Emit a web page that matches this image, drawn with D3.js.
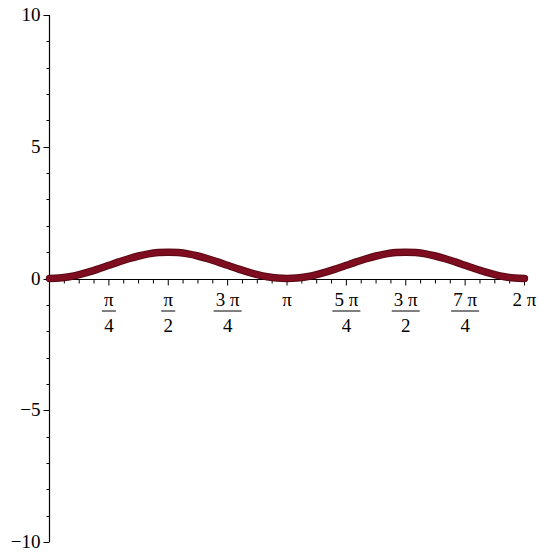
<!DOCTYPE html>
<html>
<head>
<meta charset="utf-8">
<script src="https://cdn.jsdelivr.net/npm/d3@7"></script>
<style>
  body { margin: 0; background: #fff; }
  text { font-family: 'Liberation Serif', 'Times New Roman', serif; fill: #000; }
</style>
</head>
<body>
<div id="chart"></div>
<script>
// sample points (x in radians, y values)
const xValues = [0, 0.131, 0.262, 0.393, 0.524, 0.654, 0.785, 0.916, 1.047, 1.178, 1.309, 1.440,
  1.571, 1.702, 1.833, 1.963, 2.094, 2.225, 2.356, 2.487, 2.618, 2.749, 2.880, 3.011,
  3.142, 3.272, 3.403, 3.534, 3.665, 3.796, 3.927, 4.058, 4.189, 4.320, 4.451, 4.581,
  4.712, 4.843, 4.974, 5.105, 5.236, 5.367, 5.498, 5.629, 5.760, 5.890, 6.021, 6.152, 6.283]
const yValues = [0, 0.017, 0.067, 0.146, 0.25, 0.371, 0.5, 0.629, 0.75, 0.854, 0.933, 0.983,
  1, 0.983, 0.933, 0.854, 0.75, 0.629, 0.5, 0.371, 0.25, 0.146, 0.067, 0.017,
  0, 0.017, 0.067, 0.146, 0.25, 0.371, 0.5, 0.629, 0.75, 0.854, 0.933, 0.983,
  1, 0.983, 0.933, 0.854, 0.75, 0.629, 0.5, 0.371, 0.25, 0.146, 0.067, 0.017, 0]

// x tick labels at multiples of pi/4
const xTickMultiples = [1, 2, 3, 4, 5, 6, 7, 8]
const xTickNum = ['π', 'π', '3 π', 'π', '5 π', '3 π', '7 π', '2 π']
const xTickDen = ['4', '2', '4', null, '4', '2', '4', null]
const yTicks = [-10, -5, 0, 5, 10]
const yTickLabels = ['−10', '−5', '0', '5', '10']

const width = 540
const height = 555
const margin = { top: 15, left: 49.5, right: 15.5, bottom: 13 }

const svg = d3.select('#chart')
  .append('svg')
  .attr('width', width)
  .attr('height', height)

const xScale = d3.scaleLinear()
  .domain([0, 2 * Math.PI])
  .range([margin.left, width - margin.right])

const yScale = d3.scaleLinear()
  .domain([-10, 10])
  .range([height - margin.bottom, margin.top])

const axisColor = '#000'

// y axis
const yAxisG = svg.append('g')
yAxisG.append('line')
  .attr('x1', xScale(0)).attr('x2', xScale(0))
  .attr('y1', yScale(-10)).attr('y2', yScale(10))
  .attr('stroke', axisColor).attr('stroke-width', 1.2)

yAxisG.selectAll('.ytick')
  .data(d3.range(-10, 11))
  .enter().append('line')
  .attr('x1', xScale(0))
  .attr('x2', d => xScale(0) - (d % 5 === 0 ? 6 : 3))
  .attr('y1', d => Math.round(yScale(d)) + 0.5)
  .attr('y2', d => Math.round(yScale(d)) + 0.5)
  .attr('stroke', axisColor).attr('stroke-width', 1)

yAxisG.selectAll('.ylabel')
  .data(yTicks)
  .enter().append('text')
  .attr('x', xScale(0) - 9)
  .attr('y', d => yScale(d) + 6)
  .attr('text-anchor', 'end')
  .attr('font-size', 19)
  .text((d, i) => yTickLabels[i])

// x axis
const xAxisG = svg.append('g')
xAxisG.append('line')
  .attr('x1', xScale(0)).attr('x2', xScale(2 * Math.PI))
  .attr('y1', Math.round(yScale(0)) + 0.5).attr('y2', Math.round(yScale(0)) + 0.5)
  .attr('stroke', axisColor).attr('stroke-width', 1.2)

xAxisG.selectAll('.xtick')
  .data(d3.range(1, 33))
  .enter().append('line')
  .attr('x1', d => xScale(d * Math.PI / 16))
  .attr('x2', d => xScale(d * Math.PI / 16))
  .attr('y1', Math.round(yScale(0)) + 0.5)
  .attr('y2', d => Math.round(yScale(0)) + 0.5 + (d % 4 === 0 ? 6 : 4))
  .attr('stroke', axisColor).attr('stroke-width', 1)

const xLabels = xAxisG.selectAll('.xlabel')
  .data(xTickMultiples)
  .enter().append('g')
  .attr('transform', d => 'translate(' + xScale(d * Math.PI / 4) + ',' + (yScale(0) + 27) + ')')

xLabels.append('text')
  .attr('text-anchor', 'middle')
  .attr('font-size', 19)
  .text((d, i) => xTickNum[i])

xLabels.filter((d, i) => xTickDen[i] !== null)
  .append('line')
  .attr('x1', d => xTickNum[xTickMultiples.indexOf(d)].length > 1 ? -14 : -7)
  .attr('x2', d => xTickNum[xTickMultiples.indexOf(d)].length > 1 ? 14 : 7)
  .attr('y1', 5.5).attr('y2', 5.5)
  .attr('stroke', '#000').attr('stroke-width', 1)

xLabels.filter((d, i) => xTickDen[i] !== null)
  .append('text')
  .attr('text-anchor', 'middle')
  .attr('y', 26)
  .attr('font-size', 19)
  .text(d => xTickDen[xTickMultiples.indexOf(d)])

// the curve
const points = xValues.map((x, i) => ({ x: x, y: yValues[i] }))

const line = d3.line()
  .x(d => xScale(d.x))
  .y(d => yScale(d.y))
  .curve(d3.curveCatmullRom)

svg.append('path')
  .datum(points)
  .attr('d', line)
  .attr('fill', 'none')
  .attr('stroke', '#5a0812')
  .attr('stroke-width', 7.5)
  .attr('stroke-linecap', 'round')

svg.append('path')
  .datum(points)
  .attr('d', line)
  .attr('fill', 'none')
  .attr('stroke', '#7e0d20')
  .attr('stroke-width', 5.5)
  .attr('stroke-linecap', 'round')
</script>
</body>
</html>
